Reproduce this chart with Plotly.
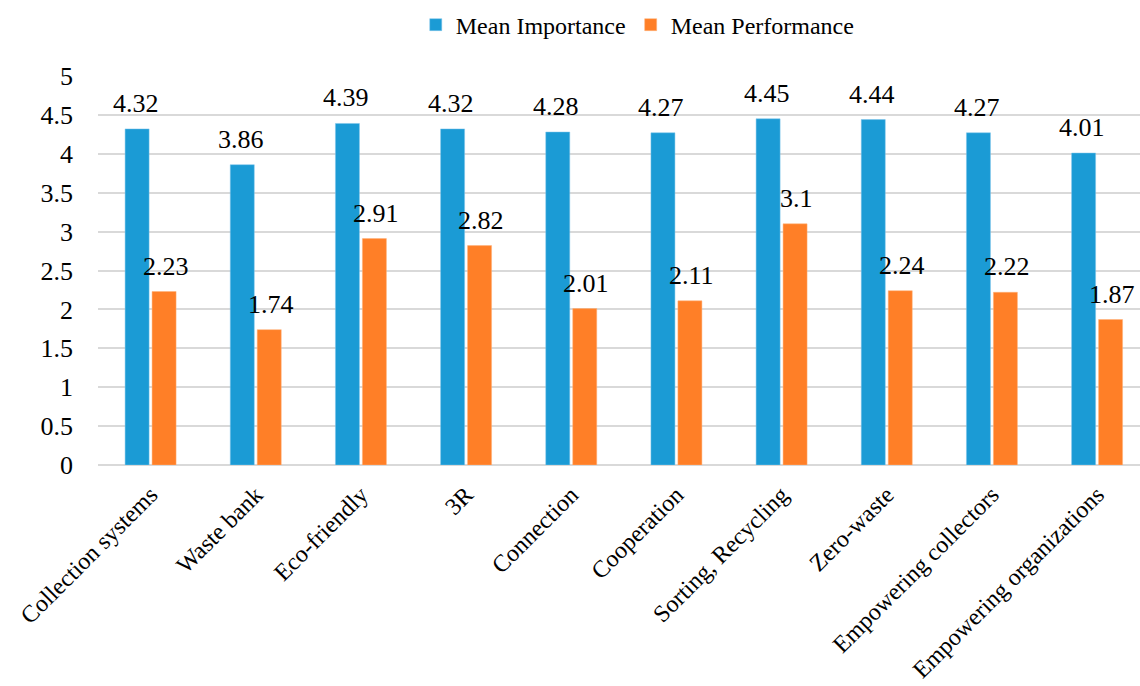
import plotly.graph_objects as go

categories = ["Collection systems", "Waste bank", "Eco-friendly", "3R", "Connection",
              "Cooperation", "Sorting, Recycling", "Zero-waste", "Empowering collectors",
              "Empowering organizations"]
importance = [4.32, 3.86, 4.39, 4.32, 4.28, 4.27, 4.45, 4.44, 4.27, 4.01]
performance = [2.23, 1.74, 2.91, 2.82, 2.01, 2.11, 3.1, 2.24, 2.22, 1.87]
y_ticks = [0, 0.5, 1, 1.5, 2, 2.5, 3, 3.5, 4, 4.5, 5]
y_tick_labels = ["0", "0.5", "1", "1.5", "2", "2.5", "3", "3.5", "4", "4.5", "5"]

BLUE = "#1B9BD5"
ORANGE = "#FF7F27"
FONT = "Liberation Serif, Times New Roman, serif"

fig = go.Figure()
fig.add_trace(go.Bar(x=categories, y=importance, name="Mean Importance",
                     marker=dict(color=BLUE, line=dict(color="#7fc4ea", width=0.5))))
fig.add_trace(go.Bar(x=categories, y=performance, name="Mean Performance",
                     marker=dict(color=ORANGE, line=dict(color="#ffb27a", width=0.5))))

annotations = []
for c, v in zip(categories, importance):
    annotations.append(dict(x=c, y=v, text=f"{v:g}", showarrow=False, xref="x", yref="y",
                            xanchor="center", yanchor="bottom", xshift=-15, yshift=9,
                            font=dict(family=FONT, size=26, color="#000")))
for c, v in zip(categories, performance):
    annotations.append(dict(x=c, y=v, text=f"{v:g}", showarrow=False, xref="x", yref="y",
                            xanchor="center", yanchor="bottom", xshift=15, yshift=9,
                            font=dict(family=FONT, size=26, color="#000")))

fig.update_layout(
    width=1140, height=686,
    margin=dict(l=98, r=0, t=76, b=221),
    paper_bgcolor="white", plot_bgcolor="white",
    font=dict(family=FONT, size=24, color="#000"),
    barmode="group", bargap=0.487, bargroupgap=0.11,
    showlegend=True,
    legend=dict(orientation="h", x=0.518, xanchor="center", y=1.131, yanchor="middle",
                font=dict(family=FONT, size=24, color="#000"), itemwidth=30,
                traceorder="normal"),
    annotations=annotations,
)
fig.update_xaxes(range=[-0.5, 9.408], tickangle=-45,
                 tickfont=dict(family=FONT, size=24, color="#000"),
                 showgrid=False, showline=False, ticks="", ticklabelstandoff=10)
fig.update_yaxes(range=[0, 5], tickvals=y_ticks, ticktext=y_tick_labels,
                 tickfont=dict(family=FONT, size=26, color="#000"),
                 showgrid=True, gridcolor="#d9d9d9",
                 gridwidth=1.5, zeroline=True, zerolinecolor="#d9d9d9", zerolinewidth=1.5,
                 ticklabelstandoff=24, showline=False)

fig.write_html("out.html")
